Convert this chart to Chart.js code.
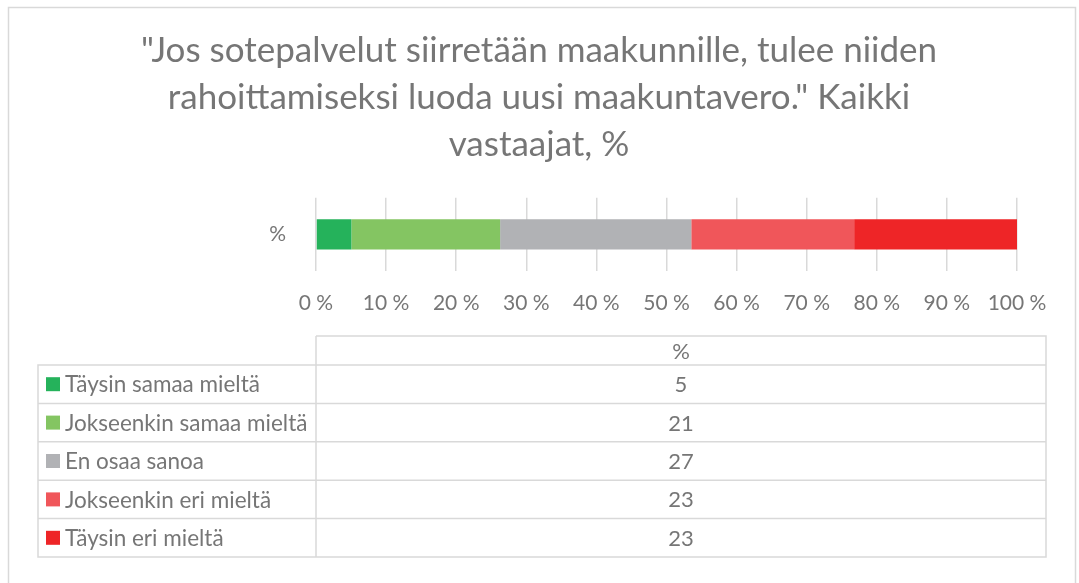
<!DOCTYPE html>
<html>
<head>
<meta charset="utf-8">
<script src="https://cdn.jsdelivr.net/npm/chart.js@4.4.0/dist/chart.umd.min.js"></script>
<style>
  html, body { margin: 0; padding: 0; background: #fff; }
  #wrap { width: 1079px; height: 583px; position: relative; }
</style>
</head>
<body>
<div id="wrap"><canvas id="chart" width="1079" height="583"></canvas></div>
<script>
// Kysymys ja vastausvaihtoehdot
const titleLines = [
    '"Jos sotepalvelut siirretään maakunnille, tulee niiden',
    'rahoittamiseksi luoda uusi maakuntavero." Kaikki',
    'vastaajat, %'
];
const barLabels = ['%'];
const answers = [
    'Täysin samaa mieltä',
    'Jokseenkin samaa mieltä',
    'En osaa sanoa',
    'Jokseenkin eri mieltä',
    'Täysin eri mieltä'
];
const shares = [5, 21, 27, 23, 23];
const answerColors = ['#25B25B', '#84C562', '#B1B2B5', '#F0565A', '#EE2527'];

const textColor = '#767676';
const lineColor = '#D9D9D9';
const fontFamily = 'Lato, "Noto Sans", sans-serif';

// 100 % pinottu: osuudet skaalataan summaan
const total = shares.reduce((a, b) => a + b, 0);

// Taulukko ja kehys piirretään kaavion alle
const dataTablePlugin = {
    id: 'dataTable',
    afterDraw(chart) {
        const ctx = chart.ctx;
        const xs = chart.scales.x;
        const colLeft = xs.left;
        const colRight = 1046;
        const rowLeft = 38;
        const headerTop = 336;
        const headerBottom = 365;
        const rowH = 38.4;

        ctx.save();
        // ulkokehys
        ctx.strokeStyle = lineColor;
        ctx.lineWidth = 1.5;
        ctx.strokeRect(8.5, 7.5, 1067, 600);

        ctx.beginPath();
        ctx.moveTo(colLeft, headerTop);
        ctx.lineTo(colRight, headerTop);
        ctx.lineTo(colRight, headerBottom + rowH * answers.length);
        ctx.lineTo(rowLeft, headerBottom + rowH * answers.length);
        ctx.lineTo(rowLeft, headerBottom);
        ctx.lineTo(colRight, headerBottom);
        ctx.moveTo(colLeft, headerTop);
        ctx.lineTo(colLeft, headerBottom + rowH * answers.length);
        for (let i = 1; i < answers.length; i++) {
            const y = headerBottom + rowH * i;
            ctx.moveTo(rowLeft, y);
            ctx.lineTo(colRight, y);
        }
        ctx.stroke();

        ctx.font = '22px ' + fontFamily;
        ctx.fillStyle = textColor;
        ctx.textBaseline = 'middle';
        ctx.textAlign = 'center';
        const colMid = (colLeft + colRight) / 2;
        ctx.fillText(barLabels[0], colMid, (headerTop + headerBottom) / 2 + 1);

        answers.forEach((name, i) => {
            const yMid = headerBottom + rowH * i + rowH / 2;
            ctx.fillStyle = answerColors[i];
            ctx.fillRect(46, yMid - 7, 14, 14);
            ctx.fillStyle = textColor;
            ctx.textAlign = 'left';
            ctx.font = '22.5px ' + fontFamily;
            ctx.fillText(name, 65, yMid + 1);
            ctx.textAlign = 'center';
            ctx.font = '22px ' + fontFamily;
            ctx.fillText(String(shares[i]), colMid, yMid + 1);
        });
        ctx.restore();
    }
};

const ctx = document.getElementById('chart').getContext('2d');
new Chart(ctx, {
    type: 'bar',
    data: {
        labels: barLabels,
        datasets: answers.map((name, i) => ({
            label: name,
            data: [shares[i] / total * 100],
            backgroundColor: answerColors[i],
            borderWidth: 0,
            barPercentage: 0.41,
            categoryPercentage: 1
        }))
    },
    options: {
        indexAxis: 'y',
        responsive: false,
        animation: false,
        layout: {
            padding: { top: 27, right: 62, bottom: 262, left: 61 }
        },
        plugins: {
            legend: { display: false },
            tooltip: { enabled: false },
            title: {
                display: true,
                text: titleLines,
                color: textColor,
                font: { family: fontFamily, size: 35, weight: 'normal', lineHeight: 1.35 },
                padding: { top: 0, bottom: 29 }
            }
        },
        scales: {
            x: {
                stacked: true,
                min: 0,
                max: 100,
                ticks: {
                    stepSize: 10,
                    color: textColor,
                    padding: 20,
                    font: { family: fontFamily, size: 21 },
                    callback: (v) => v + ' %'
                },
                grid: { color: lineColor, lineWidth: 1.5, drawTicks: false },
                border: { display: false },
                afterFit: (axis) => { axis.height = 50; }
            },
            y: {
                stacked: true,
                ticks: {
                    color: textColor,
                    padding: 22,
                    font: { family: fontFamily, size: 21 }
                },
                grid: { display: false },
                border: { display: false },
                afterFit: (axis) => { axis.width = 255; }
            }
        }
    },
    plugins: [dataTablePlugin]
});
</script>
</body>
</html>
